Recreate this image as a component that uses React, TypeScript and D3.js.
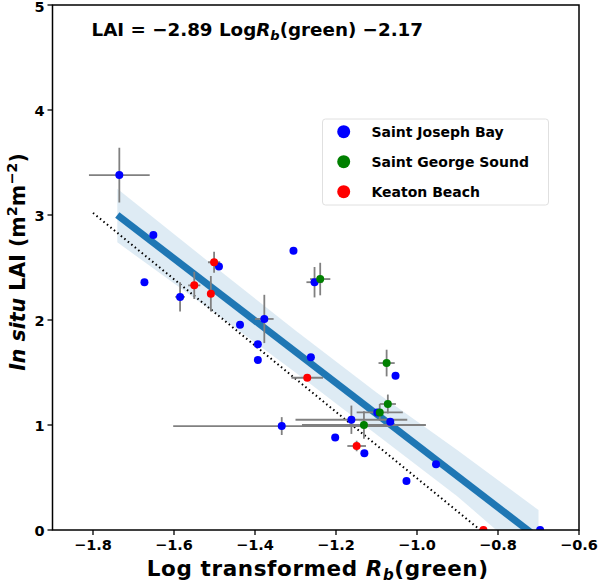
import React from "react";
import * as d3 from "d3";

// Saint Joseph Bay
const sjbX = [-1.735, -1.651, -1.673, -1.305, -1.489, -1.585, -1.253, -1.377, -1.437, -1.393, -1.393, -1.262, -1.053, -1.098, -1.066, -1.162, -1.334, -1.202, -1.13, -0.953, -1.026, -0.696];
const sjbY = [3.38, 2.81, 2.36, 2.66, 2.51, 2.22, 2.36, 2.01, 1.955, 1.77, 1.62, 1.645, 1.47, 1.12, 1.03, 1.05, 0.99, 0.88, 0.73, 0.626, 0.467, 0];
const sjbXErr = [0.075, 0, 0, 0, 0, 0.012, 0.02, 0.023, 0, 0, 0, 0, 0, 0, 0, 0.138, 0.268, 0, 0, 0, 0, 0];
const sjbYErr = [0.26, 0, 0, 0, 0, 0.14, 0.145, 0.23, 0, 0, 0, 0, 0, 0, 0, 0.135, 0.085, 0, 0, 0, 0, 0];

// Saint George Sound
const sgsX = [-1.239, -1.075, -1.072, -1.092, -1.131];
const sgsY = [2.39, 1.59, 1.2, 1.12, 1.0];
const sgsXErr = [0.025, 0.02, 0.02, 0.057, 0.153];
const sgsYErr = [0.155, 0.127, 0.09, 0.08, 0.13];

// Keaton Beach
const kbX = [-1.501, -1.55, -1.509, -1.271, -1.149, -0.836];
const kbY = [2.55, 2.33, 2.25, 1.45, 0.8, 0];
const kbXErr = [0.015, 0.015, 0.004, 0.039, 0.023, 0];
const kbYErr = [0.1, 0.13, 0.17, 0.005, 0.05, 0];

// fitted line and confidence band
const fitX = [-1.74, -0.7];
const fitY = [3.0, -0.08];
const bandX = [-1.74, -1.5, -1.3, -1.1, -0.9, -0.7];
const bandLow = [2.74, 2.07, 1.5, 0.91, 0.32, -0.35];
const bandHigh = [3.25, 2.51, 1.9, 1.31, 0.76, 0.19];

// dotted reference line
const refX = [-1.8, -0.844];
const refY = [3.02, 0];

const xTicks = [-1.8, -1.6, -1.4, -1.2, -1.0, -0.8, -0.6];
const yTicks = [0, 1, 2, 3, 4, 5];

const series = [
  { name: "Saint Joseph Bay", color: "#0000ff", x: sjbX, y: sjbY, xe: sjbXErr, ye: sjbYErr },
  { name: "Saint George Sound", color: "#008000", x: sgsX, y: sgsY, xe: sgsXErr, ye: sgsYErr },
  { name: "Keaton Beach", color: "#ff0000", x: kbX, y: kbY, xe: kbXErr, ye: kbYErr },
];

const W = 600;
const H = 583;
const L = 52.5, R = 579, T = 5, B = 530;

export default function App() {
  const x = d3.scaleLinear().domain([-1.9, -0.6]).range([L, R]);
  const y = d3.scaleLinear().domain([0, 5]).range([B, T]);
  const font = "'DejaVu Sans', sans-serif";

  const area = d3
    .area<number>()
    .x((_, i) => x(bandX[i]))
    .y0((_, i) => y(bandLow[i]))
    .y1((_, i) => y(bandHigh[i]));
  const line = d3
    .line<number>()
    .x((_, i) => x(fitX[i]))
    .y((d) => y(d));
  const refLine = d3
    .line<number>()
    .x((_, i) => x(refX[i]))
    .y((d) => y(d));

  const fmt = (v: number) => (v < 0 ? "\u2212" + Math.abs(v).toFixed(1) : v.toFixed(1));

  return (
    <svg width={W} height={H} style={{ position: "absolute", left: 0, top: 0, background: "#fff" }} fontFamily={font}>
      <defs>
        <clipPath id="plotclip">
          <rect x={L} y={T} width={R - L} height={B - T} />
        </clipPath>
      </defs>
      <rect x={0} y={0} width={W} height={H} fill="#fff" />
      <g clipPath="url(#plotclip)">
        <path d={area(bandX) || ""} fill="#1f77b4" fillOpacity={0.15} stroke="none" />
        <path d={line(fitY) || ""} stroke="#1f77b4" strokeWidth={7} fill="none" />
        <path d={refLine(refY) || ""} stroke="#000" strokeWidth={2} strokeDasharray="1.5,3" fill="none" />
        {series.map((s) =>
          s.x.map((xv, i) => (
            <g key={s.name + "e" + i} stroke="#808080" strokeWidth={1.8}>
              {s.xe[i] > 0 && <line x1={x(xv - s.xe[i])} x2={x(xv + s.xe[i])} y1={y(s.y[i])} y2={y(s.y[i])} />}
              {s.ye[i] > 0 && <line x1={x(xv)} x2={x(xv)} y1={y(s.y[i] - s.ye[i])} y2={y(s.y[i] + s.ye[i])} />}
            </g>
          ))
        )}
        {series.map((s) =>
          s.x.map((xv, i) => <circle key={s.name + "p" + i} cx={x(xv)} cy={y(s.y[i])} r={4} fill={s.color} />)
        )}
      </g>
      <rect x={L} y={T} width={R - L} height={B - T} fill="none" stroke="#000" strokeWidth={1.5} />
      {xTicks.map((t) => (
        <g key={"xt" + t}>
          <line x1={x(t)} x2={x(t)} y1={B} y2={B + 5} stroke="#000" strokeWidth={1.3} />
          <text x={x(t)} y={B + 20} textAnchor="middle" fontSize={14.5} fontWeight="bold">
            {fmt(t)}
          </text>
        </g>
      ))}
      {yTicks.map((t) => (
        <g key={"yt" + t}>
          <line x1={L - 5} x2={L} y1={y(t)} y2={y(t)} stroke="#000" strokeWidth={1.3} />
          <text x={L - 8} y={Math.max(y(t) + 5.5, 12)} textAnchor="end" fontSize={14.5} fontWeight="bold">
            {t}
          </text>
        </g>
      ))}
      <text x={91.5} y={36} fontSize={18.3} fontWeight="bold">
        <tspan>LAI = −2.89 Log</tspan>
        <tspan fontStyle="italic">R</tspan>
        <tspan fontStyle="italic" fontSize={13} dy={4}>b</tspan>
        <tspan dy={-4}>(green) −2.17</tspan>
      </text>
      <text x={(L + R) / 2 + 2} y={576} textAnchor="middle" fontSize={21.5} fontWeight="bold" letterSpacing={0.6}>
        <tspan>Log transformed </tspan>
        <tspan fontStyle="italic">R</tspan>
        <tspan fontStyle="italic" fontSize={15} dy={4}>b</tspan>
        <tspan dy={-4}>(green)</tspan>
      </text>
      <text transform={`translate(25, 262) rotate(-90)`} textAnchor="middle" fontSize={20.5} fontWeight="bold">
        <tspan fontStyle="italic">In situ</tspan>
        <tspan> LAI (m</tspan>
        <tspan fontSize={14.5} dy={-8}>2</tspan>
        <tspan dy={8}>m</tspan>
        <tspan fontSize={14.5} dy={-8}>−2</tspan>
        <tspan dy={8}>)</tspan>
      </text>
      <g>
        <rect x={322.5} y={119} width={226} height={86} rx={3} fill="#fff" fillOpacity={0.8} stroke="#e0e0e0" strokeWidth={1} />
        {series.map((s, i) => (
          <g key={"lg" + i}>
            <circle cx={343.7} cy={131.7 + i * 30} r={6.5} fill={s.color} />
            <text x={371.5} y={131.7 + i * 30 + 5} fontSize={14} fontWeight="bold">
              {s.name}
            </text>
          </g>
        ))}
      </g>
    </svg>
  );
}
